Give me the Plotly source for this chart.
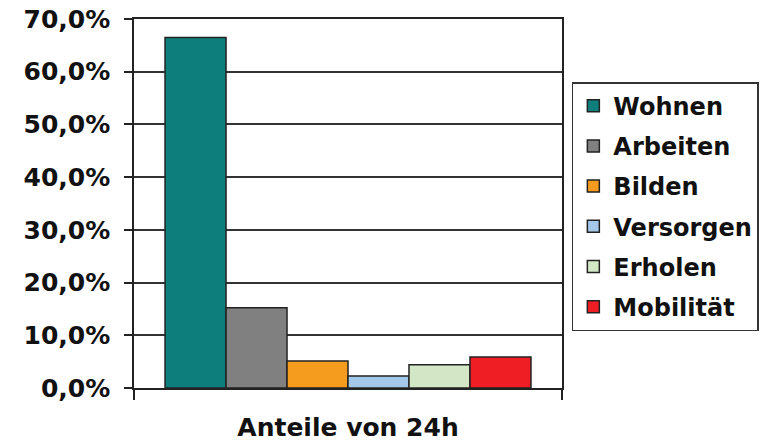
import plotly.graph_objects as go

category = ["Anteile von 24h"]
series_names = ["Wohnen", "Arbeiten", "Bilden", "Versorgen", "Erholen", "Mobilität"]
series_values = [0.665, 0.152, 0.051, 0.023, 0.044, 0.059]
series_colors = ["#0E7E7C", "#808080", "#F59B1E", "#A3C8EA", "#D3E7C7", "#EE1E24"]
y_ticks = [0, 0.1, 0.2, 0.3, 0.4, 0.5, 0.6, 0.7]

FONT = "DejaVu Sans"

fig = go.Figure()
for i, (name, val, col) in enumerate(zip(series_names, series_values, series_colors)):
    fig.add_trace(go.Bar(
        x=category, y=[val], name=name,
        marker=dict(color=col, line=dict(color="#222222", width=1.5)),
        legendgroup=f"g{i}",
    ))

fig.update_layout(
    width=772, height=446,
    margin=dict(l=134, r=210, t=19, b=58),
    paper_bgcolor="white", plot_bgcolor="white",
    barmode="group", bargap=0.145, bargroupgap=0,
    separators=",.",
    font=dict(family=FONT, size=25, color="#111111", weight="bold"),
    showlegend=True,
    legend=dict(
        x=1.023, xanchor="left", y=0.829, yanchor="top",
        bordercolor="#333333", borderwidth=1.5, bgcolor="white",
        font=dict(family=FONT, size=24, color="#111111", weight="bold"),
        tracegroupgap=6,
    ),
    xaxis=dict(
        automargin=False,
        showline=True, linecolor="#222222", linewidth=1.5, mirror=True,
        ticks="outside", tickson="boundaries", ticklen=10, tickcolor="#222222",
        tickwidth=1.5, ticklabelstandoff=16, showgrid=False,
        tickfont=dict(family=FONT, size=25, color="#111111", weight="bold"),
    ),
    yaxis=dict(
        automargin=False,
        range=[0, 0.7], tickvals=y_ticks, tickformat=".1%",
        showline=True, linecolor="#222222", linewidth=1.5, mirror=True,
        ticks="outside", ticklen=8, tickcolor="#222222", tickwidth=1.5,
        showgrid=True, gridcolor="#333333", gridwidth=1.5,
        ticklabelstandoff=9, zeroline=False,
        tickfont=dict(family=FONT, size=25, color="#111111", weight="bold"),
    ),
)

fig.write_html(
    "out.html",
    config={"displayModeBar": False},
    post_script="document.body.style.margin='0';",
)
